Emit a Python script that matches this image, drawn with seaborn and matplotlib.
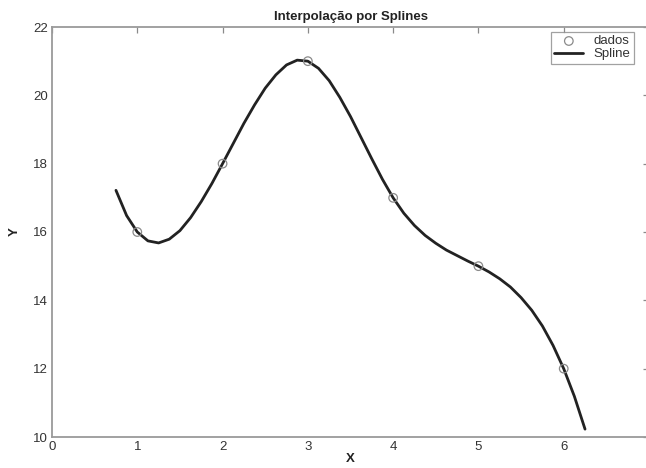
import numpy as np
import pandas as pd
import matplotlib
matplotlib.use("Agg")
import matplotlib.pyplot as plt
import seaborn as sns

# data points
x_dados = [1, 2, 3, 4, 5, 6]
y_dados = [16, 18, 21, 17, 15, 12]

# spline curve
x_spline = [0.75, 0.875, 1.0, 1.125, 1.25, 1.375, 1.5, 1.625, 1.75, 1.875,
            2.0, 2.125, 2.25, 2.375, 2.5, 2.625, 2.75, 2.875,
            3.0, 3.125, 3.25, 3.375, 3.5, 3.625, 3.75, 3.875,
            4.0, 4.125, 4.25, 4.375, 4.5, 4.625, 4.75, 4.875,
            5.0, 5.125, 5.25, 5.375, 5.5, 5.625, 5.75, 5.875,
            6.0, 6.125, 6.25]
y_spline = [17.22, 16.48, 16.00, 15.74, 15.68, 15.79, 16.04, 16.42, 16.89, 17.42,
            18.00, 18.59, 19.18, 19.72, 20.21, 20.60, 20.89, 21.03,
            21.00, 20.79, 20.43, 19.94, 19.38, 18.76, 18.14, 17.54,
            17.00, 16.55, 16.19, 15.90, 15.67, 15.47, 15.31, 15.15,
            15.00, 14.83, 14.63, 14.39, 14.08, 13.71, 13.25, 12.68,
            12.00, 11.19, 10.23]

title = "Interpolação por Splines"
x_ticks = [0, 1, 2, 3, 4, 5, 6]
y_ticks = [10, 12, 14, 16, 18, 20, 22]

sns.set_style("white")
plt.rcParams['font.family'] = ['Liberation Sans', 'DejaVu Sans']

W, H = 646, 468
fig = plt.figure(figsize=(W / 100, H / 100), dpi=100)
ax = fig.add_axes([52 / W, (H - 437) / H, 597 / W, 410 / H])

df_d = pd.DataFrame({"x": x_dados, "y": y_dados})
df_s = pd.DataFrame({"x": x_spline, "y": y_spline})

sns.scatterplot(data=df_d, x="x", y="y", ax=ax, marker="o", s=38,
                facecolor="none", edgecolor="#8a8a8a", linewidth=0.9,
                label="dados", zorder=3)
sns.lineplot(data=df_s, x="x", y="y", ax=ax, color="#222222", linewidth=2.0,
             label="Spline", sort=False, zorder=2)

ax.set_xlim(0, 7)
ax.set_ylim(10, 22)
ax.set_xticks(x_ticks)
ax.set_yticks(y_ticks)
ax.set_xticklabels([str(t) for t in x_ticks])
ax.set_yticklabels([str(t) for t in y_ticks])

ax.tick_params(direction="in", top=True, right=True, length=4, width=0.9,
               color="#8a8a8a", labelsize=9.5, labelcolor="#333333", pad=3)
for sp in ax.spines.values():
    sp.set_color("#9a9a9a")
    sp.set_linewidth(1.3)

ax.set_title(title, fontsize=9.5, fontweight="bold", color="#222222", pad=5)
ax.set_xlabel("X", fontsize=9.5, fontweight="bold", color="#222222", labelpad=0)
ax.set_ylabel("Y", fontsize=9.5, fontweight="bold", color="#222222", labelpad=9)

leg = ax.legend(loc="upper right", bbox_to_anchor=(0.975, 0.988), borderaxespad=0,
                fontsize=9.5, frameon=True, fancybox=False, handlelength=2.2,
                handletextpad=0.8, borderpad=0.25, labelspacing=0.05)
leg.get_frame().set_edgecolor("#8a8a8a")
leg.get_frame().set_linewidth(0.9)
for t in leg.get_texts():
    t.set_color("#333333")

fig.savefig("out.png", dpi=100)
